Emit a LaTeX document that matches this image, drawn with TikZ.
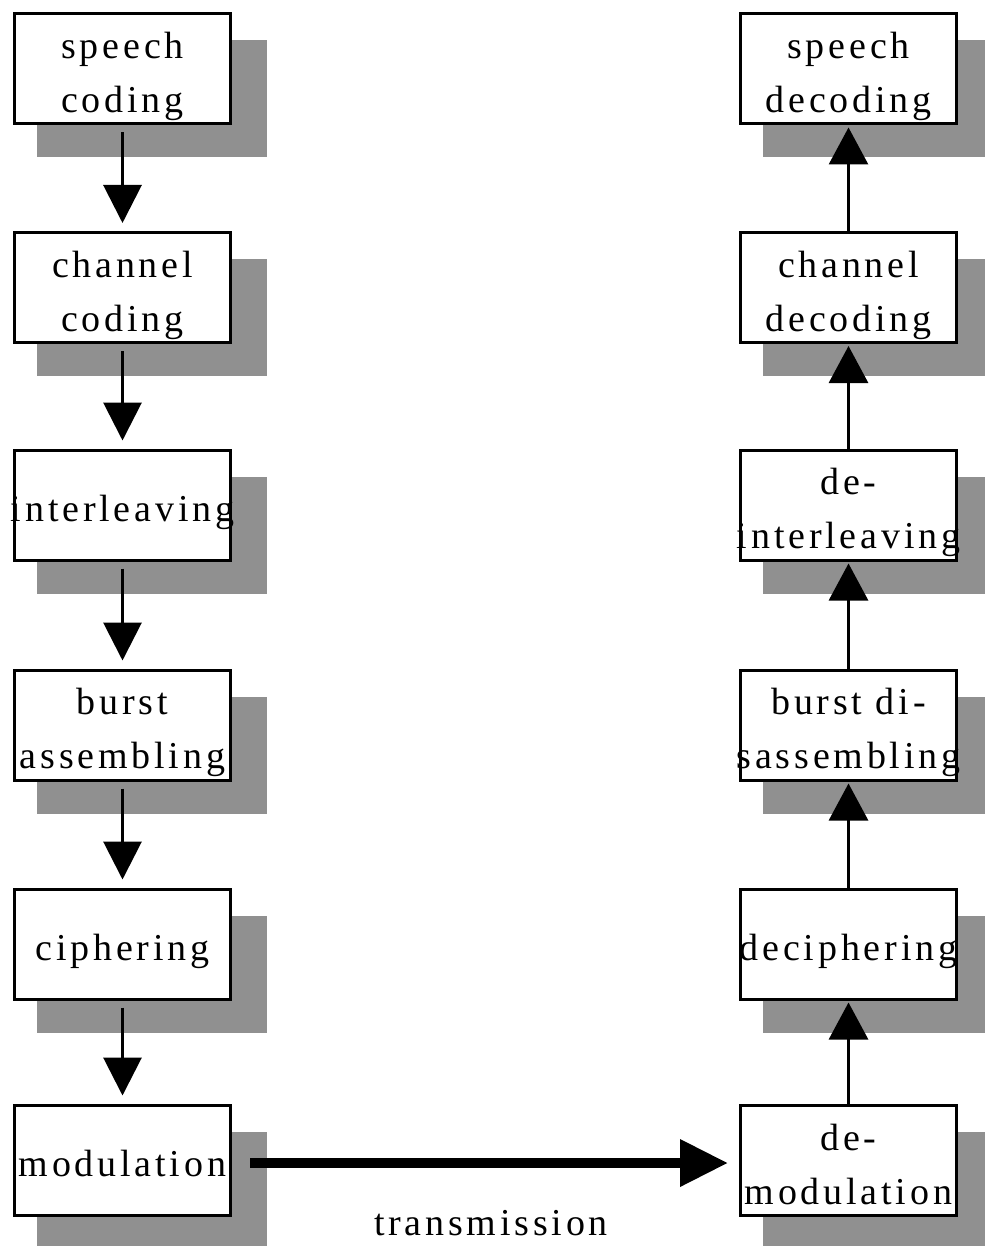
\documentclass[tikz,border=0pt]{standalone}
\usepackage{fontspec}
\newfontfamily\boxfont[LetterSpace=10]{Liberation Serif}
\usetikzlibrary{arrows.meta,backgrounds}
\definecolor{shadowgray}{gray}{0.565}
% text that may run over the border of its box
\newcommand{\oneline}[1]{\makebox[0pt]{#1}}
\newcommand{\twolines}[2]{\rule{0pt}{42pt}\makebox[0pt]{#1}\\\makebox[0pt]{#2}\rule[-8pt]{0pt}{8pt}}

\begin{document}
\begin{tikzpicture}[x=1pt, y=-1pt,
    block/.style={draw, line width=3pt, fill=white, minimum width=216pt,
      minimum height=110pt, inner sep=0pt, align=center,
      font=\boxfont\fontsize{38}{54}\selectfont},
    single/.style={text height=34pt, text depth=2pt},
    downflow/.style={line width=3pt, -{Triangle[width=38pt, length=38pt]}},
    upflow/.style={line width=3pt, -{Triangle[width=39pt, length=37pt]}},
    bigflow/.style={line width=10pt, -{Triangle[width=45pt, length=48pt]}},
    shadowbox/.style={fill=shadowgray}]
  \useasboundingbox (0,0) rectangle (984,1246);

  % sender side
  \node[block] (speech) at (122.5,69) {\twolines{speech}{coding}};
  \node[block] (channel) at (122.5,287.5) {\twolines{channel}{coding}};
  \node[block, single] (interleave) at (122.5,505) {\oneline{interleaving}};
  \node[block] (burst) at (122.5,725) {\twolines{burst}{assembling}};
  \node[block, single] (cipher) at (122.5,944) {\oneline{ciphering}};
  \node[block, single] (modul) at (122.5,1160) {\oneline{modulation}};

  % receiver side
  \node[block] (speechdec) at (848.5,69) {\twolines{speech}{decoding}};
  \node[block] (channeldec) at (848.5,287.5) {\twolines{channel}{decoding}};
  \node[block] (deinter) at (848.5,505) {\twolines{de-}{interleaving}};
  \node[block] (burstdis) at (848.5,725) {\twolines{burst di-}{sassembling}};
  \node[block, single] (decipher) at (848.5,944) {\oneline{deciphering}};
  \node[block] (demodul) at (848.5,1160) {\twolines{de-}{modulation}};

  \node[font=\boxfont\fontsize{38}{54}\selectfont, anchor=base, inner sep=0pt] (trans) at (491,1235) {transmission};

  % shadows
  \begin{scope}[on background layer]
    \foreach \b in {speech,channel,interleave,burst,cipher,modul,
                    speechdec,channeldec,deinter,burstdis,decipher,demodul}
      \fill[shadowbox] ([shift={(24pt,-28pt)}]\b.north west) rectangle ([shift={(35pt,-32pt)}]\b.south east);
  \end{scope}

  \draw[downflow] ([yshift=-7pt]speech.south) -- ([yshift=8pt]channel.north);
  \draw[downflow] ([yshift=-7pt]channel.south) -- ([yshift=8pt]interleave.north);
  \draw[downflow] ([yshift=-7pt]interleave.south) -- ([yshift=8pt]burst.north);
  \draw[downflow] ([yshift=-7pt]burst.south) -- ([yshift=8pt]cipher.north);
  \draw[downflow] ([yshift=-7pt]cipher.south) -- ([yshift=8pt]modul.north);

  \draw[bigflow] ([xshift=18pt, yshift=-3pt]modul.east) -- ([xshift=-11pt, yshift=-3pt]demodul.west);

  \draw[upflow] (demodul.north) -- ([yshift=-2pt]decipher.south);
  \draw[upflow] (decipher.north) -- ([yshift=-2pt]burstdis.south);
  \draw[upflow] (burstdis.north) -- ([yshift=-2pt]deinter.south);
  \draw[upflow] (deinter.north) -- ([yshift=-2pt]channeldec.south);
  \draw[upflow] (channeldec.north) -- ([yshift=-2pt]speechdec.south);
\end{tikzpicture}
\end{document}
